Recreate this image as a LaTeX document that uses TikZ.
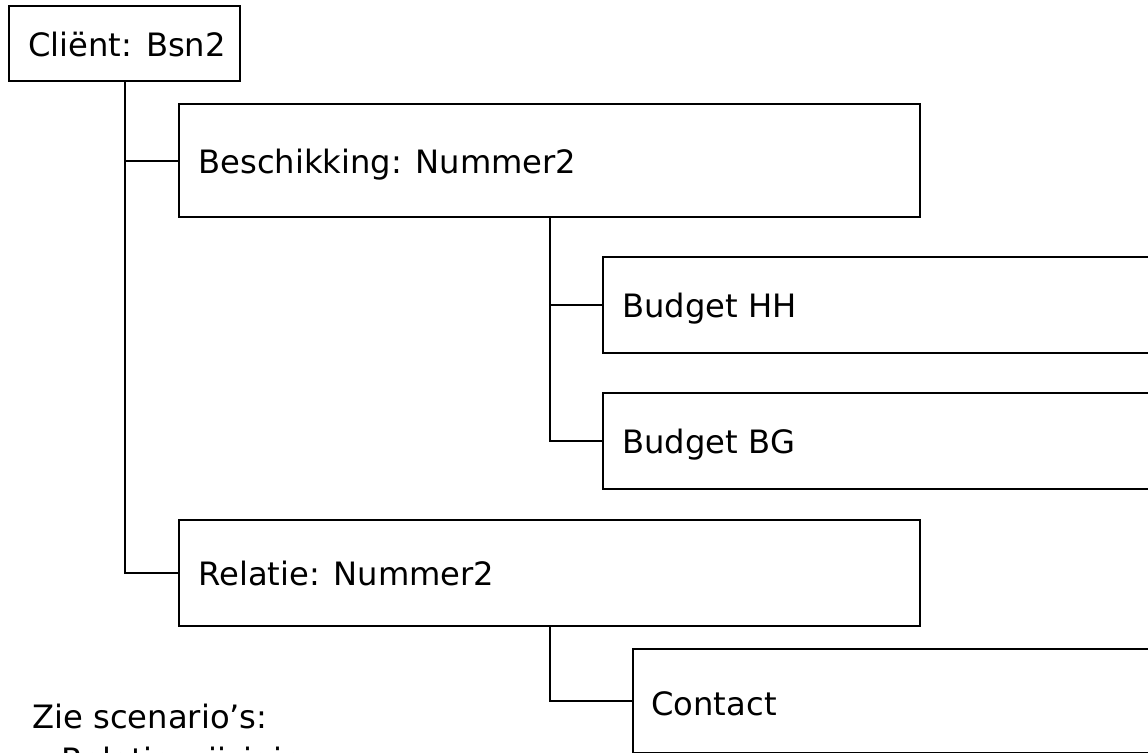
\documentclass[tikz,border=0pt]{standalone}
\usepackage{fontspec}
\setmainfont{DejaVu Sans}
\usetikzlibrary{fit}
\begin{document}
\begin{tikzpicture}[x=0.5pt,y=-0.5pt,
  box/.style={draw=black, line width=1pt, fill=white, inner sep=0pt, rectangle},
  lbl/.style={anchor=base west, inner sep=0pt, font=\fontsize{16.1pt}{20pt}\selectfont},
  conn/.style={draw=black, line width=1pt}]
\useasboundingbox (0,0) rectangle (1148,752);
\clip (0,0) rectangle (1148,752);
\fill[white] (0,0) rectangle (1148,752);
% boxes
\node[box, fit={(9,6)(240,81)}] (client) {};
\node[box, fit={(179,104)(920,217)}] (besch) {};
\node[box, fit={(603,257)(1165,353)}] (bhh) {};
\node[box, fit={(603,393)(1165,489)}] (bbg) {};
\node[box, fit={(179,520)(920,626)}] (rel) {};
\node[box, fit={(633,649)(1165,753)}] (contact) {};
% labels
\node[lbl] (tclient) at (28,56) {Cliënt: Bsn2};
\node[lbl] (tbesch) at (198,173) {Beschikking: Nummer2};
\node[lbl] (tbhh) at (622,317) {Budget HH};
\node[lbl] (tbbg) at (622,453) {Budget BG};
\node[lbl] (trel) at (198,585) {Relatie: Nummer2};
\node[lbl] (tcontact) at (651,715) {Contact};
\node[lbl] (tzie) at (32,728) {Zie scenario’s:};
\node[lbl] (tbul) at (32,771) {• Relatie wijziging};
% connectors
\draw[conn] (client.south) |- (besch.west);
\draw[conn] (client.south) |- (rel.west);
\draw[conn] (besch.south) |- (bhh.west);
\draw[conn] (besch.south) |- (bbg.west);
\draw[conn] (rel.south) |- (contact.west);
\end{tikzpicture}
\end{document}
